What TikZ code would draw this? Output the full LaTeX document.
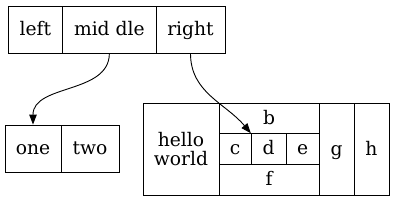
\documentclass[tikz,border=0pt]{standalone}
\usepackage{fontspec}
\setmainfont{DejaVu Serif}
\usetikzlibrary{arrows.meta}

\begin{document}
\begin{tikzpicture}[
    x=1pt, y=-1pt,
    >={Triangle[length=10pt, width=7.5pt]},
    box/.style={draw, rectangle, line width=0.9pt, inner sep=0pt, align=center, font=\fontsize{18.7}{19}\selectfont},
    cell/.style={box, text height=12pt, text depth=1pt}
]
    \useasboundingbox (0,0) rectangle (394,201);

    % top record
    \node[cell, minimum width=54.7pt, minimum height=47pt] (left) at (35.35,29.5) {left};
    \node[cell, minimum width=93.3pt, minimum height=47pt] (mid) at (109.35,29.5) {mid dle};
    \node[cell, minimum width=69pt, minimum height=47pt] (right) at (190.5,29.5) {right};

    % lower left record
    \node[cell, minimum width=56pt, minimum height=47.7pt] (one) at (33,148.85) {one};
    \node[cell, minimum width=58pt, minimum height=47.7pt] (two) at (90,148.85) {two};

    % lower right record
    \node[box, minimum width=76pt, minimum height=92.4pt] (hello) at (181,149.5) {hello\\world};
    \node[cell, minimum width=100.3pt, minimum height=30.4pt] (b) at (269.15,118.5) {b};
    \node[cell, minimum width=32.3pt, minimum height=30.6pt] (c) at (235.15,149) {c};
    \node[cell, minimum width=34.7pt, minimum height=30.6pt] (d) at (268.65,149) {d};
    \node[cell, minimum width=33.3pt, minimum height=30.6pt] (e) at (302.65,149) {e};
    \node[cell, minimum width=100.3pt, minimum height=31.4pt] (f) at (269.15,180) {f};
    \node[cell, minimum width=34.7pt, minimum height=92.4pt] (g) at (336.65,149.5) {g};
    \node[cell, minimum width=35pt, minimum height=92.4pt] (h) at (371.5,149.5) {h};

    \draw[->, line width=0.9pt] (mid.south) to[out=-90, in=90] (one.north);
    \draw[->, line width=0.9pt] (right.south) to[out=-90, in=130] (d.north west);

\end{tikzpicture}
\end{document}
